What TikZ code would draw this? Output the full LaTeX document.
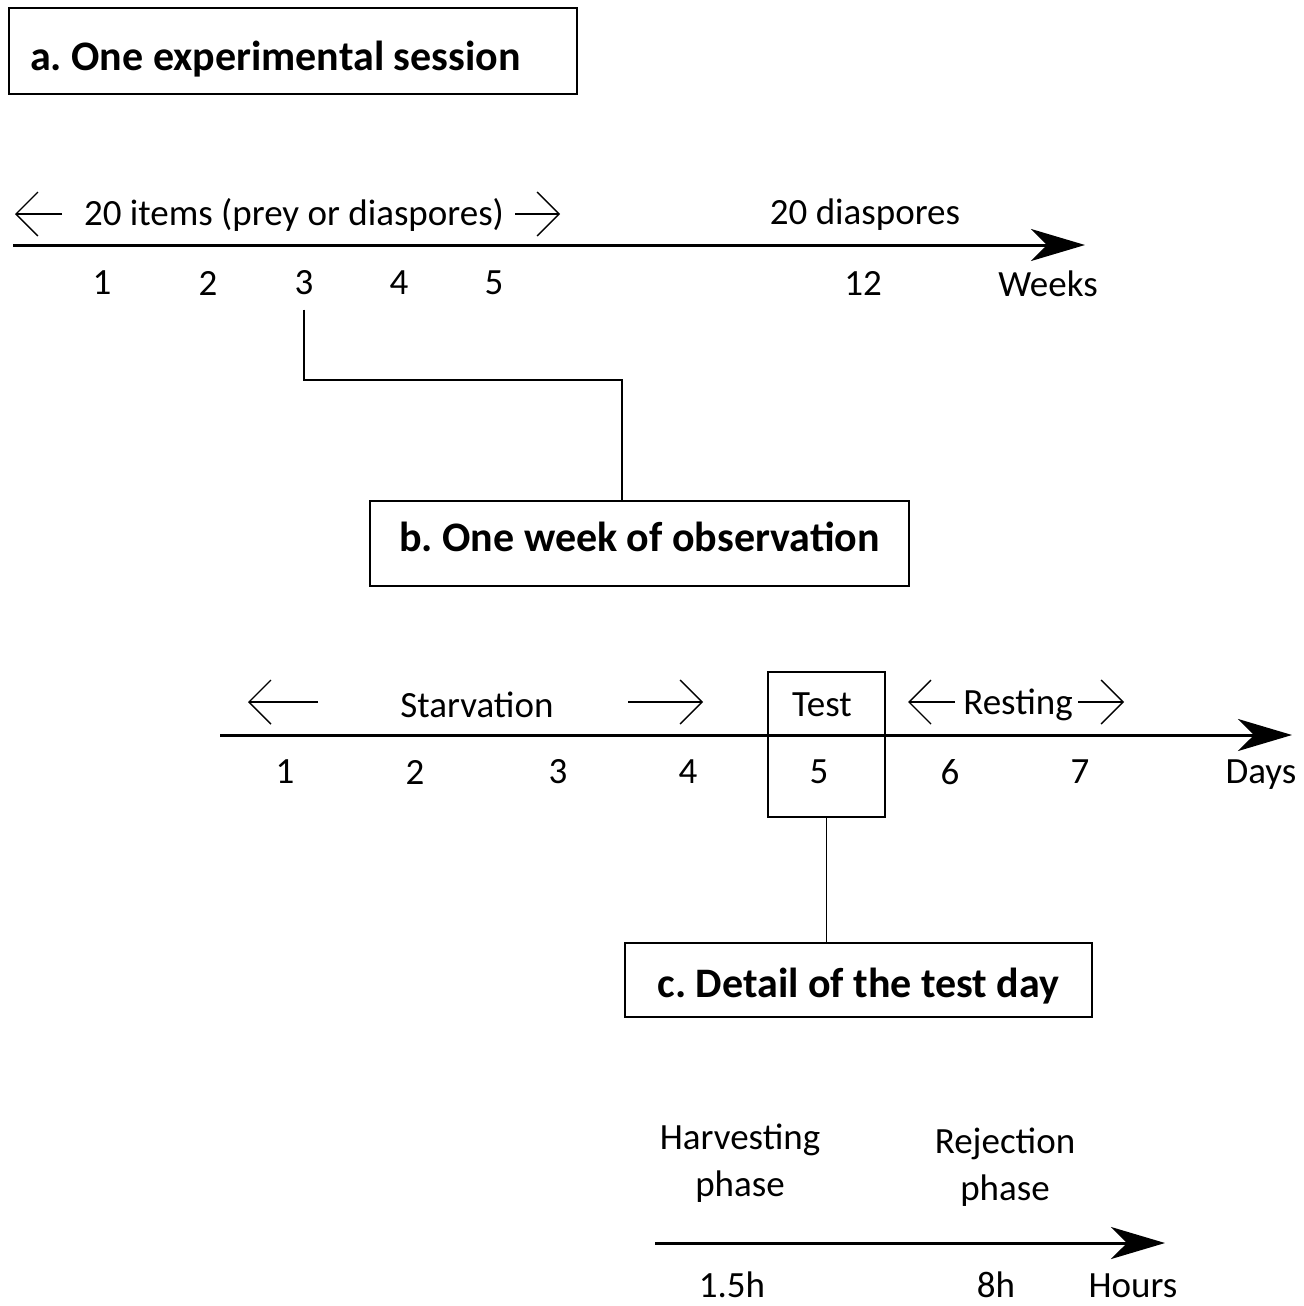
\documentclass[tikz,border=0pt]{standalone}
\usepackage{fontspec}
\setmainfont{Carlito}
\usetikzlibrary{arrows.meta}
\frenchspacing

\tikzset{
  txt/.style={inner sep=1pt, font=\fontsize{18.5}{23.5}\selectfont},
  title/.style={draw, line width=0.8pt, inner sep=0pt, font=\fontsize{21}{25}\selectfont\bfseries},
  axis/.style={line width=1.5pt, -{Stealth[length=27pt,width=16pt,inset=8pt]}},
  span/.style={line width=0.7pt, -{Straight Barb[length=11pt,width=22pt]}},
  link/.style={line width=0.8pt}
}

\begin{document}
\begin{tikzpicture}[x=0.5pt,y=-0.5pt]
\useasboundingbox (0,0) rectangle (1303,1306);
% a. Weeks axis:
\node (boxa) [title, minimum height=43pt, inner xsep=10.5pt, text width=263pt, align=flush left, text height=23pt, text depth=4pt] at (293,51) {a. One experimental session};
\coordinate (wstart) at (13,245);
\coordinate (wend) at (1085,245);
\draw[axis] (wstart) -- (wend);
\node (items) [txt] at (294,215) {20 items (prey or diaspores)};
\draw[span] (62,214) -- (15,214);
\draw[span] (515,214) -- (560,214);
\node (dia) [txt] at (865,215) {20 diaspores};
\node (w1) [txt] at (102,283) {1};
\node (w2) [txt] at (208,283) {2};
\node (w3) [txt] at (304,283) {3};
\node (w4) [txt] at (399,283) {4};
\node (w5) [txt] at (494,283) {5};
\node (w12) [txt] at (863,283) {12};
\node (weeks) [txt] at (1048,284) {Weeks};

% b. Days axis:
\node (boxb) [title, minimum width=269.5pt, minimum height=42.5pt, text height=12pt, text depth=4pt] at (639.5,543.5) {b. One week of observation};
\coordinate (bend) at (622,380);
\draw[link] ([yshift=-6pt]w3.south) |- (bend) -- (bend |- boxb.north);
\coordinate (dstart) at (220,735);
\coordinate (dend) at (1292,735);
\draw[axis] (dstart) -- (dend);
\node (testbox) [draw, line width=0.8pt, minimum width=58.5pt, minimum height=72.5pt] at (826.5,744.5) {};
\node (test) [txt] at (822,705) {Test};
\node (starv) [txt] at (477,705) {Starvation};
\draw[span] (318,702) -- (248,702);
\draw[span] (628,702) -- (703,702);
\node (rest) [txt] at (1018,705) {Resting};
\draw[span] (955,702) -- (908,702);
\draw[span] (1078,702) -- (1124,702);
\node (d1) [txt] at (285,772) {1};
\node (d2) [txt] at (415,772) {2};
\node (d3) [txt] at (558,772) {3};
\node (d4) [txt] at (688,772) {4};
\node (d5) [txt] at (819,772) {5};
\node (d6) [txt] at (950,772) {6};
\node (d7) [txt] at (1080,772) {7};
\node (days) [txt] at (1261,775) {Days};

% c. Hours axis:
\node (boxc) [title, minimum width=233.5pt, minimum height=37pt, text height=21pt, text depth=4pt] at (858.5,980) {c. Detail of the test day};
\draw[link] (testbox.south) -- (testbox.south |- boxc.north);
\coordinate (hstart) at (655,1243);
\coordinate (hend) at (1165,1243);
\draw[axis] (hstart) -- (hend);
\node (harv) [txt, align=center] at (740,1163) {Harvesting\\phase};
\node (rej) [txt, align=center] at (1005,1167) {Rejection\\phase};
\node (h1) [txt] at (732,1285) {1.5h};
\node (h2) [txt] at (996,1285) {8h};
\node (hours) [txt] at (1133,1286) {Hours};
\end{tikzpicture}
\end{document}
